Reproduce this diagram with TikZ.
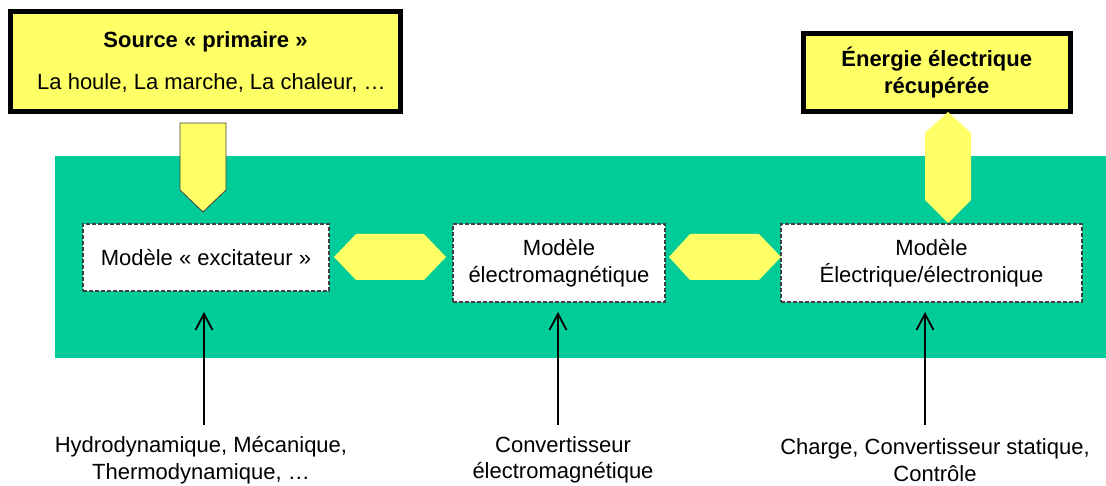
\documentclass[tikz,border=0pt]{standalone}
\usepackage{fontspec}
\setmainfont{Liberation Sans}
\usetikzlibrary{arrows.meta}
\definecolor{band}{RGB}{0,204,153}
\definecolor{lemon}{RGB}{255,255,102}
\definecolor{dashgray}{RGB}{64,64,64}
\begin{document}
\begin{tikzpicture}[x=1pt,y=-1pt,
  txt/.style={font=\fontsize{22}{26.5}\selectfont},
  srcbox/.style={draw=black, line width=5pt, fill=lemon, align=center, inner sep=0pt, txt},
  model/.style={draw=dashgray, dash pattern=on 4pt off 2pt, line width=1.2pt, fill=white, align=center, inner sep=0pt, txt},
  lbl/.style={align=center, inner sep=0pt, txt},
  hexa/.style={fill=lemon},
  blockarrow/.style={fill=lemon, draw=black!75, line width=0.8pt},
  inarrow/.style={-{Straight Barb[length=16pt,width=17pt]}, line width=1.8pt}]
\useasboundingbox (0,0) rectangle (1106,486);

% green band
\fill[band] (55,156) rectangle (1106,358);

% top boxes
\node[srcbox, minimum width=390pt, minimum height=100pt] (src) at (205.5,61.5)
  {\textbf{Source «~primaire~»}\\[15.5pt]\hspace*{12pt}La houle, La marche, La chaleur, …};
\node[srcbox, minimum width=267.5pt, minimum height=78pt, font=\fontsize{22}{27}\selectfont\bfseries] (nrg) at (936.75,72.5)
  {Énergie électrique\\récupérée};

% model boxes
\node[model, minimum width=246pt, minimum height=67pt] (m1) at (206,257.5) {Modèle «~excitateur~»};
\node[model, minimum width=212pt, minimum height=78pt] (m2) at (559,263) {Modèle\\électromagnétique};
\node[model, minimum width=301pt, minimum height=78pt] (m3) at (931.5,263) {Modèle\\Électrique/électronique};

% block arrows
\draw[blockarrow] (180,123) -- (226,123) -- (226,190) -- (203,212) -- (180,190) -- cycle;
\fill[hexa] (948,112) -- (971,133) -- (971,200) -- (948,223) -- (925,200) -- (925,133) -- cycle;
\fill[hexa] (334,257) -- (356,234) -- (424,234) -- (446,257) -- (424,280) -- (356,280) -- cycle;
\fill[hexa] (669,257) -- (690,234) -- (759,234) -- (781,257) -- (759,280) -- (690,280) -- cycle;

% bottom labels
\node[lbl] (l1) at (201,460) {Hydrodynamique, Mécanique,\\Thermodynamique, …};
\node[lbl] (l2) at (563,460) {Convertisseur\\électromagnétique};
\node[lbl] (l3) at (935,460) {Charge, Convertisseur statique,\\Contrôle};

\coordinate (s1) at (204,425); \coordinate (t1) at (204,312);
\coordinate (s2) at (558,425); \coordinate (t2) at (558,312);
\coordinate (s3) at (925,425); \coordinate (t3) at (925,312);
\draw[inarrow] (s1) -- (t1);
\draw[inarrow] (s2) -- (t2);
\draw[inarrow] (s3) -- (t3);
\end{tikzpicture}
\end{document}
